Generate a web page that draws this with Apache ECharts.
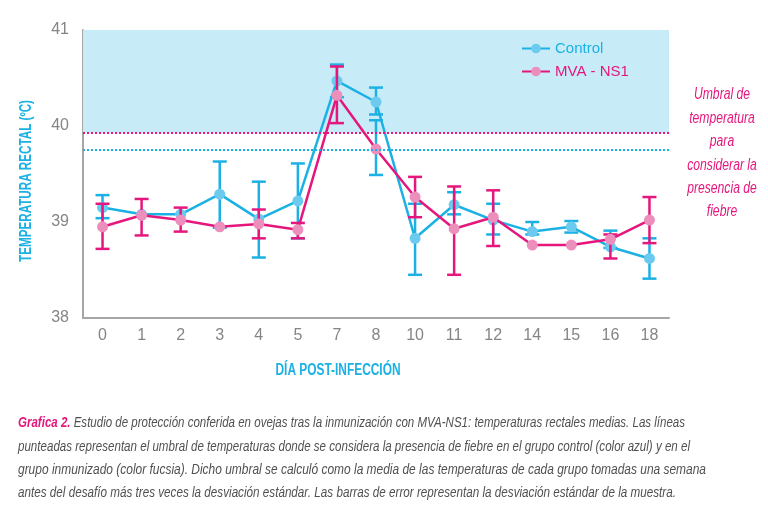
<!DOCTYPE html>
<html>
<head>
<meta charset="utf-8">
<script src="https://cdn.jsdelivr.net/npm/echarts@6/dist/echarts.min.js"></script>
<style>
html,body{margin:0;padding:0;background:#fff;}
#chart{width:768px;height:522px;}
</style>
</head>
<body>
<div id="chart"></div>
<script>
// ---- data ----
const days = ['0','1','2','3','4','5','7','8','10','11','12','14','15','16','18'];
const controlMean = [39.15, 39.08, 39.08, 39.29, 39.03, 39.22, 40.47, 40.25, 38.83, 39.18, 39.02, 38.90, 38.95, 38.74, 38.62];
const mvaMean     = [38.95, 39.07, 39.02, 38.95, 38.98, 38.92, 40.32, 39.76, 39.26, 38.93, 39.05, 38.76, 38.76, 38.82, 39.02];
// error bars as drawn in the figure: [day, low, high]
const controlBars = [
  ['0', 39.04, 39.28], ['3', 38.94, 39.63], ['4', 38.63, 39.42], ['5', 38.83, 39.61],
  ['7', 40.30, 40.64], ['8', 40.12, 40.40], ['8', 39.49, 40.06], ['10', 38.45, 39.19],
  ['11', 39.08, 39.31], ['12', 38.87, 39.19], ['14', 38.87, 39.00], ['15', 38.89, 39.01],
  ['16', 38.73, 38.91], ['18', 38.41, 38.83]
];
const mvaBars = [
  ['0', 38.72, 39.19], ['1', 38.86, 39.24], ['2', 38.90, 39.15], ['4', 38.83, 39.13],
  ['5', 38.83, 38.99], ['7', 40.03, 40.62], ['10', 39.05, 39.47], ['11', 38.45, 39.37],
  ['12', 38.75, 39.33], ['16', 38.62, 38.87], ['18', 38.78, 39.26]
];
const thresholdControl = 39.75;
const thresholdMva = 39.93;
const yTicks = [38, 39, 40, 41];
const seriesNames = ['Control', 'MVA - NS1'];
const annotationLines = ['Umbral de', 'temperatura', 'para', 'considerar la', 'presencia de', 'fiebre'];
const captionLead = 'Grafica 2.';
const captionLines = [
  'Estudio de protección conferida en ovejas tras la inmunización con MVA-NS1: temperaturas rectales medias. Las líneas',
  'punteadas representan el umbral de temperaturas donde se considera la presencia de fiebre en el grupo control (color azul) y en el',
  'grupo inmunizado (color fucsia). Dicho umbral se calculó como la media de las temperaturas de cada grupo tomadas una semana',
  'antes del desafío más tres veces la desviación estándar. Las barras de error representan la desviación estándar de la muestra.'
];

// ---- style ----
const BLUE = '#1cb1e4';
const BLUE_PT = '#6ccaee';
const PINK = '#e5177d';
const PINK_PT = '#ec8fbd';
const SHADE = '#c8ecf7';
const FONT = '"Liberation Sans", sans-serif';
const captionRight = [685, 690, 706, 676];

const mctx = document.createElement('canvas').getContext('2d');
function measure(text, font) { mctx.font = font; return mctx.measureText(text).width; }

function errRender(color) {
  return function (params, api) {
    const x = api.value(0);
    const lo = api.coord([x, api.value(1)]);
    const hi = api.coord([x, api.value(2)]);
    const w = 7;
    const st = { stroke: color, lineWidth: 2.5 };
    return {
      type: 'group',
      children: [
        { type: 'line', shape: { x1: lo[0], y1: lo[1], x2: hi[0], y2: hi[1] }, style: st },
        { type: 'line', shape: { x1: lo[0] - w, y1: lo[1], x2: lo[0] + w, y2: lo[1] }, style: st },
        { type: 'line', shape: { x1: hi[0] - w, y1: hi[1], x2: hi[0] + w, y2: hi[1] }, style: st }
      ]
    };
  };
}

const chart = echarts.init(document.getElementById('chart'), null, { renderer: 'canvas' });

const graphics = [];
const annFont = 'italic 16px ' + FONT;
annotationLines.forEach((t, i) => {
  graphics.push({
    type: 'text', x: 722, y: 95 + i * 23.4, scaleX: 0.76,
    style: { text: t, fill: PINK, font: annFont, align: 'center', verticalAlign: 'middle' }
  });
});
const yNameFont = 'bold 16px ' + FONT;
const yNameText = 'TEMPERATURA RECTAL (ºC)';
graphics.push({
  type: 'text', x: 27, y: 181, rotation: Math.PI / 2,
  scaleX: 162 / measure(yNameText, yNameFont),
  style: { text: yNameText, fill: BLUE, font: yNameFont, align: 'center', verticalAlign: 'middle' }
});
const xNameFont = 'bold 16px ' + FONT;
const xNameText = 'DÍA POST-INFECCIÓN';
graphics.push({
  type: 'text', x: 338, y: 371,
  scaleX: 125 / measure(xNameText, xNameFont),
  style: { text: xNameText, fill: BLUE, font: xNameFont, align: 'center', verticalAlign: 'middle' }
});
const capFont = 'italic 15px ' + FONT;
const capLeadFont = 'italic bold 15px ' + FONT;
captionLines.forEach((t, i) => {
  let w = measure(t, capFont);
  let txt = t;
  if (i === 0) {
    w += measure(captionLead + ' ', capLeadFont);
    txt = '{a|' + captionLead + '} ' + t;
  }
  graphics.push({
    type: 'text', x: 18, y: 423 + i * 23.4,
    scaleX: (captionRight[i] - 18) / w,
    style: {
      text: txt, fill: '#505050', font: capFont, align: 'left', verticalAlign: 'middle',
      rich: { a: { fill: PINK, font: capLeadFont } }
    }
  });
});

chart.setOption({
  animation: false,
  backgroundColor: '#ffffff',
  grid: { left: 83, right: 99, top: 30, bottom: 204, containLabel: false },
  legend: {
    orient: 'vertical', left: 516, top: 36, itemGap: 8, itemWidth: 28, itemHeight: 12,
    textStyle: { fontFamily: FONT, fontSize: 15 },
    data: [
      { name: seriesNames[0], textStyle: { color: BLUE } },
      { name: seriesNames[1], textStyle: { color: PINK } }
    ]
  },
  xAxis: {
    type: 'category', data: days, boundaryGap: true,
    axisLine: { lineStyle: { color: '#a6a6a6', width: 2 } },
    axisTick: { show: false },
    axisLabel: { color: '#858585', fontFamily: FONT, fontSize: 16, margin: 10 },
    splitLine: { show: false }
  },
  yAxis: {
    type: 'value', min: yTicks[0], max: yTicks[yTicks.length - 1], interval: 1,
    axisLine: { show: true, lineStyle: { color: '#a6a6a6', width: 2 } },
    axisTick: { show: false },
    axisLabel: { color: '#858585', fontFamily: FONT, fontSize: 16, margin: 14 },
    splitLine: { show: false }
  },
  graphic: graphics,
  series: [
    {
      name: 'bg', type: 'line', data: [], z: 1, silent: true,
      markArea: {
        silent: true,
        itemStyle: { color: SHADE },
        data: [[{ yAxis: thresholdMva }, { yAxis: yTicks[yTicks.length - 1] }]]
      },
      markLine: {
        silent: true, symbol: 'none', label: { show: false },
        data: [
          { yAxis: thresholdMva, lineStyle: { color: PINK, type: [2, 2], width: 2 } },
          { yAxis: thresholdControl, lineStyle: { color: BLUE, type: [2, 2], width: 2 } }
        ]
      }
    },
    {
      name: 'ctrlBars', type: 'custom', z: 3, data: controlBars,
      encode: { x: 0, y: [1, 2] }, renderItem: errRender(BLUE)
    },
    {
      name: seriesNames[0], type: 'line', z: 3, data: controlMean,
      lineStyle: { color: BLUE, width: 2.5 },
      itemStyle: { color: BLUE_PT },
      symbol: 'circle', symbolSize: 11, showAllSymbol: true
    },
    {
      name: 'mvaBars', type: 'custom', z: 4, data: mvaBars,
      encode: { x: 0, y: [1, 2] }, renderItem: errRender(PINK)
    },
    {
      name: seriesNames[1], type: 'line', z: 4, data: mvaMean,
      lineStyle: { color: PINK, width: 2.5 },
      itemStyle: { color: PINK_PT },
      symbol: 'circle', symbolSize: 11, showAllSymbol: true
    }
  ]
});
</script>
</body>
</html>
